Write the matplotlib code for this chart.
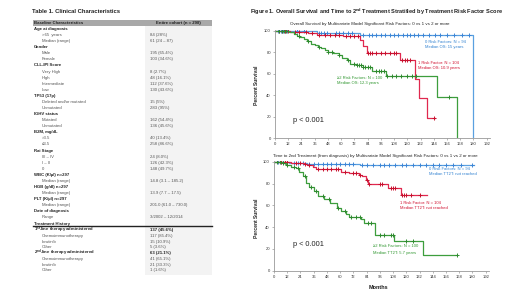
import numpy as np
import matplotlib.pyplot as plt
from matplotlib.patches import Rectangle

plt.rcParams['font.family'] = ['Liberation Sans', 'DejaVu Sans']
plt.rcParams['mathtext.fontset'] = 'custom'
plt.rcParams['mathtext.rm'] = 'Liberation Sans'
plt.rcParams['mathtext.bf'] = 'Liberation Sans:bold'

# ---- table data ----
table_labels = [
    'Baseline Characteristics',
    'Age at diagnosis', '>65  years', 'Median (range)',
    'Gender', 'Male', 'Female',
    'CLL-IPI Score', 'Very High', 'High', 'Intermediate', 'Low',
    'TP53 (17p)', 'Deleted and/or mutated', 'Unmutated',
    'IGHV status', 'Mutated', 'Unmutated',
    'B2M, mg/dL', '>3.5', '\u22643.5',
    'Rai Stage', 'III \u2013 IV', 'I \u2013 II', '0',
    'WBC (K/\u00b5l) n=297', 'Median (range)',
    'HGB (g/dl) n=297', 'Median (range)',
    'PLT (K/\u00b5l) n=297', 'Median (range)',
    'Date of diagnosis', 'Range',
    'Treatment History',
    r'1$^{\mathbf{st}}$-line therapy administered', 'Chemoimmunotherapy', 'Ibrutinib', 'Other',
    r'2$^{\mathbf{nd}}$-line therapy administered', 'Chemoimmunotherapy', 'Ibrutinib', 'Other',
]
table_values = [
    'Entire cohort (n = 298)',
    '', '84 (28%)', '61 (24 \u2013 87)',
    '', '195 (65.4%)', '103 (34.6%)',
    '', '8 (2.7%)', '48 (16.1%)', '112 (37.6%)', '130 (43.6%)',
    '', '15 (5%)', '283 (95%)',
    '', '162 (54.4%)', '136 (45.6%)',
    '', '40 (13.4%)', '258 (86.6%)',
    '', '24 (8.0%)', '126 (42.3%)', '148 (49.7%)',
    '', '14.8 (3.1 \u2013 185.2)',
    '', '13.9 (7.7 \u2013 17.5)',
    '', '201.0 (61.0 \u2013 730.0)',
    '', '3/2002 \u2013 12/2014',
    '',
    '137 (45.6%)', '117 (85.4%)', '15 (10.9%)', '5 (3.6%)',
    '63 (21.1%)', '41 (65.1%)', '21 (33.3%)', '1 (1.6%)',
]
table_bold = [0, 1, 4, 7, 12, 15, 18, 21, 25, 27, 29, 31, 33, 34, 38]

# ---- survival curves (step: value holds from each time) ----
os_blue_t = [0, 38, 77, 180]
os_blue_s = [100, 98.1, 96, 0]
os_red_t = [0, 14, 30, 38, 62, 77, 80, 83, 113, 127, 131, 138, 145]
os_red_s = [100, 98.8, 97.6, 96.2, 94.6, 91.4, 86, 79, 73, 55, 37, 18.6, 18.6]
os_green_t = [0, 13, 17, 20, 23, 26, 29, 33, 36, 39, 42, 45, 48, 53, 58, 61,
              65, 68, 74, 80, 88, 101, 147, 165]
os_green_s = [100, 98.5, 97, 95.5, 94, 92, 90, 88, 86.7, 85, 83.5, 82, 80.5, 79, 77, 75,
              72.8, 69, 68, 66.5, 62.5, 58.2, 38.7, 0]

os_blue_c = [3, 5, 7, 9, 11, 20, 26, 40, 42, 44, 47, 55, 58, 62, 66, 70, 80, 85, 88, 92, 96, 100,
             104, 108, 112, 116, 120, 122, 126, 130, 134, 140, 145, 150, 156, 162, 170, 176]
os_red_c = [4, 6, 9, 12, 18, 22, 28, 34, 40, 45, 50, 54, 58, 64, 68, 72, 75, 84, 86, 88, 92, 96,
            100, 104, 108, 110, 115, 118, 120, 122, 144]
os_green_c = [4, 6, 8, 10, 22, 30, 40, 48, 52, 58, 66, 72, 74, 76, 78, 80, 82, 84, 86, 92, 94,
              96, 99, 102, 106, 110, 114, 120, 124, 128, 158]

tt_blue_t = [0, 14, 30, 78, 181]
tt_blue_s = [100, 99, 98, 97, 97]
tt_red_t = [0, 15, 27, 30, 35, 38, 61, 68, 77, 80, 83, 85, 103, 115, 139]
tt_red_s = [100, 98.8, 98.2, 97.3, 95.8, 93.3, 91.2, 89.7, 88.2, 86.7, 83.6, 79.7, 76, 69.4, 69.4]
tt_green_t = [0, 8, 11, 15, 20, 23, 26, 29, 32, 36, 40, 45, 51, 57, 61, 65, 68, 79, 82, 92,
              109, 135, 166]
tt_green_s = [100, 98.8, 97.3, 95.8, 94.2, 91, 86.7, 80.6, 77, 73, 68.5, 65.5, 62.4, 58,
              55, 52, 49.8, 47.3, 43.7, 33, 27, 14, 14]

tt_blue_c = [4, 6, 8, 10, 12, 18, 22, 26, 32, 36, 40, 44, 48, 52, 56, 60, 64, 68, 72, 80, 84, 90,
             96, 100, 104, 110, 116, 120, 126, 132, 138, 144, 150, 156, 162, 170, 180]
tt_red_c = [6, 10, 12, 20, 24, 28, 32, 40, 44, 48, 52, 56, 58, 64, 72, 74, 78, 84, 86, 96, 98,
            106, 108, 110, 116, 118, 120, 124, 132]
tt_green_c = [3, 5, 8, 12, 18, 22, 28, 34, 38, 44, 50, 58, 64, 70, 74, 78, 85, 88, 96, 100,
              106, 108, 120, 126, 166]

blue, red, green = '#5aa0e0', '#e0284f', '#3d9e3d'
blue_t, red_t, green_t = '#2f80d0', '#d0102f', '#2e962e'

W, H = 520, 292
fig = plt.figure(figsize=(W / 100, H / 100), dpi=100)


def fx(x):
    return x / W


def fy(y):
    return 1 - y / H


# ---- table ----
fig.text(fx(32), fy(11.5), 'Table 1. Clinical Characteristics', fontsize=4.2,
         fontweight='bold', va='center', color='#222222')
fig.add_artist(Rectangle((fx(145), fy(275)), fx(212) - fx(145), fy(26) - fy(275),
                         transform=fig.transFigure, color='#f3f3f3', lw=0))
fig.add_artist(Rectangle((fx(33), fy(26)), fx(212) - fx(33), fy(20) - fy(26),
                         transform=fig.transFigure, color='#a8a8a8', lw=0))
for i, (lab, val) in enumerate(zip(table_labels, table_values)):
    # rows below the treatment-history rule are packed a little tighter
    y = 22.9 + i * 6.08 if i <= 33 else 230 + (i - 34) * 5.76
    bold = i in table_bold
    x = 34 if bold else 42
    fig.text(fx(x), fy(y), lab, fontsize=3.1, va='center',
             fontweight='bold' if bold else 'normal',
             color='#222222' if bold else '#555555')
    if val:
        if i == 0:
            fig.text(fx(178), fy(y), val, fontsize=3.1, va='center', ha='center',
                     fontweight='bold', color='#222222')
        else:
            fig.text(fx(150), fy(y), val, fontsize=3.1, va='center',
                     fontweight='bold' if bold else 'normal',
                     color='#222222' if bold else '#555555')
fig.add_artist(plt.Line2D([fx(33), fx(212)], [fy(226.3), fy(226.3)],
                          transform=fig.transFigure, color='#222222', lw=1.0))

# ---- figure title ----
fig.text(fx(250), fy(12), r'Figure 1. Overall Survival and Time to 2$^{\mathbf{nd}}$ Treatment '
         'Stratified by Treatment Risk Factor Score', fontsize=4.1, fontweight='bold',
         va='center', color='#222222')


def step_val(t, s, c):
    idx = np.searchsorted(t, c, side='right') - 1
    return np.asarray(s)[idx]


def km(ax, t, s, c, col, mcol):
    ax.step(t, s, where='post', color=col, lw=0.9)
    ax.plot(c, step_val(t, s, c), ls='none', marker='+', ms=3.4, mew=0.7, color=mcol)


def style_axes(ax):
    ax.set_xlim(0, 195)
    ax.set_ylim(0, 101)
    ax.set_xticks(np.arange(0, 193, 12))
    ax.set_yticks(np.arange(0, 101, 20))
    for sp in ['top', 'right']:
        ax.spines[sp].set_visible(False)
    for sp in ['left', 'bottom']:
        ax.spines[sp].set_color('#999999')
        ax.spines[sp].set_linewidth(0.6)
    ax.tick_params(labelsize=3, length=1.5, width=0.5, pad=1.5, colors='#999999',
                   labelcolor='#333333')
    ax.patch.set_alpha(0)


# ---- top plot: overall survival ----
ax1 = fig.add_axes([fx(275), fy(138.3), 215 / W, 108.7 / H])
style_axes(ax1)
km(ax1, os_blue_t, os_blue_s, os_blue_c, blue, '#3d86d6')
km(ax1, os_red_t, os_red_s, os_red_c, red, '#c8102e')
km(ax1, os_green_t, os_green_s, os_green_c, green, '#2f8a2f')
ax1.text(136, 89.8, '0 Risk Factors: N = 94', fontsize=3, color=blue_t, va='center')
ax1.text(136, 85.1, 'Median OS: 15 years', fontsize=3, color=blue_t, va='center')
ax1.text(130, 69.7, '1 Risk Factor: N = 104', fontsize=3, color=red_t, va='center')
ax1.text(130, 65.6, 'Median OS: 10.9 years', fontsize=3, color=red_t, va='center')
ax1.text(56, 55.8, '\u22652 Risk Factors: N = 100', fontsize=3, color=green_t, va='center')
ax1.text(56, 51.1, 'Median OS: 12.3 years', fontsize=3, color=green_t, va='center')
ax1.text(16, 17, 'p < 0.001', fontsize=5.3, color='#222222', va='center')
fig.text(fx(370), fy(24.5), 'Overall Survival by Multivariate Model Significant Risk Factors: '
         '0 vs 1 vs 2 or more', fontsize=3.2, ha='center', va='center', color='#222222')
fig.text(fx(257), fy(85), 'Percent Survival', fontsize=3.6, fontweight='bold', rotation=90,
         ha='center', va='center', color='#222222')

# ---- bottom plot: time to 2nd treatment ----
ax2 = fig.add_axes([fx(274), fy(270.7), 215 / W, 109.8 / H])
style_axes(ax2)
km(ax2, tt_blue_t, tt_blue_s, tt_blue_c, blue, '#3d86d6')
km(ax2, tt_red_t, tt_red_s, tt_red_c, red, '#c8102e')
km(ax2, tt_green_t, tt_green_s, tt_green_c, green, '#2f8a2f')
ax2.text(141, 93.3, '0 Risk Factors: N = 94', fontsize=3, color=blue_t, va='center')
ax2.text(141, 88.7, 'Median TT2T: not reached', fontsize=3, color=blue_t, va='center')
ax2.text(114, 62, '1 Risk Factor: N = 104', fontsize=3, color=red_t, va='center')
ax2.text(114, 57.8, 'Median TT2T: not reached', fontsize=3, color=red_t, va='center')
ax2.text(90, 22.7, '\u22652 Risk Factors: N = 100', fontsize=3, color=green_t, va='center')
ax2.text(90, 16.6, 'Median TT2T: 5.7 years', fontsize=3, color=green_t, va='center')
ax2.text(17, 24.3, 'p < 0.001', fontsize=5.3, color='#222222', va='center')
fig.text(fx(375), fy(156), 'Time to 2nd Treatment (from diagnosis) by Multivariate Model '
         'Significant Risk Factors: 0 vs 1 vs 2 or more', fontsize=3.2, ha='center',
         va='center', color='#222222')
fig.text(fx(256), fy(218), 'Percent Survival', fontsize=3.6, fontweight='bold', rotation=90,
         ha='center', va='center', color='#222222')
fig.text(fx(378), fy(287.5), 'Months', fontsize=4, fontweight='bold', ha='center',
         va='center', color='#222222')

fig.savefig('out.png', dpi=100)
